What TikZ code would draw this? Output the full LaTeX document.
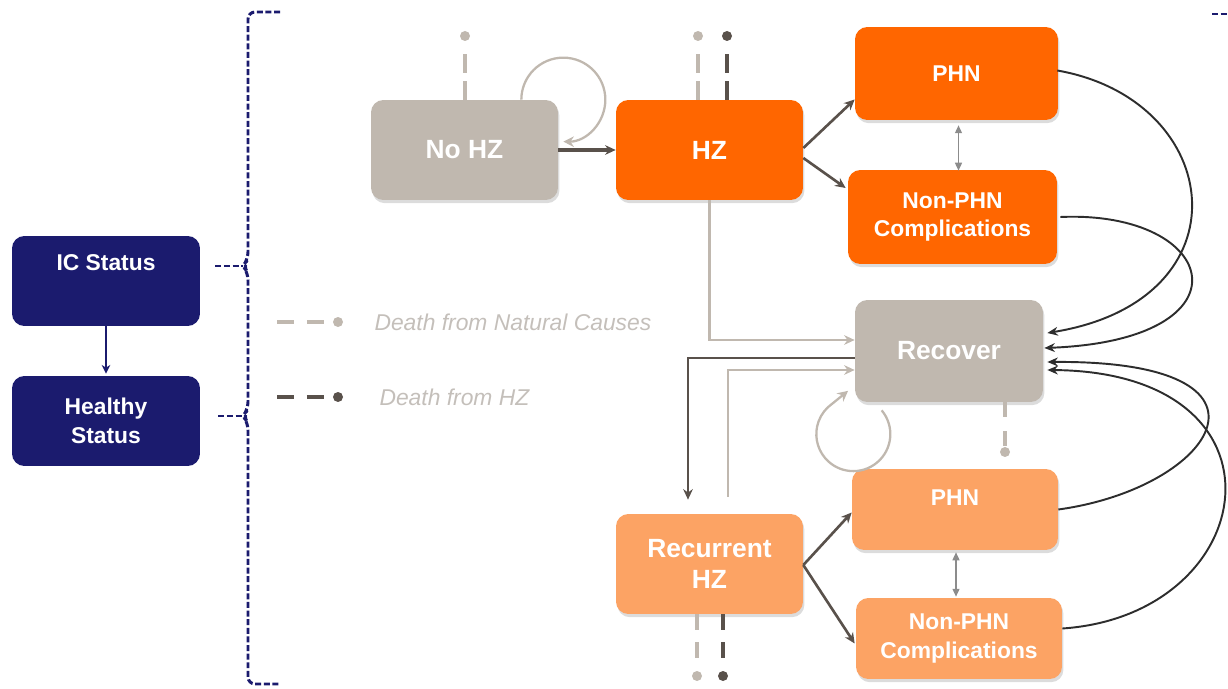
\documentclass[tikz,border=0pt]{standalone}
\usepackage{fontspec}
\setmainfont{Liberation Sans}
\usetikzlibrary{arrows.meta,calc,positioning,shadows}
\definecolor{icnavy}{RGB}{27,27,110}
\definecolor{taupe}{RGB}{192,184,175}
\definecolor{hzorange}{RGB}{255,102,0}
\definecolor{paleorange}{RGB}{252,163,100}
\definecolor{darkline}{RGB}{89,81,75}
\definecolor{lightline}{RGB}{192,184,175}
\definecolor{curveline}{RGB}{45,45,45}
\definecolor{legendgray}{RGB}{196,191,186}
\tikzset{
  box/.style={rounded corners=7pt, text=white, align=center, inner sep=0pt,
    font=\bfseries\fontsize{13}{16}\selectfont,
    drop shadow={shadow xshift=0.8pt, shadow yshift=-1.8pt, opacity=0.28}},
  bigbox/.style={box, font=\bfseries\fontsize{15}{17.5}\selectfont},
  navybox/.style={rounded corners=7pt, fill=icnavy, text=white, align=center, inner sep=0pt,
    minimum width=3.76cm, minimum height=1.8cm, font=\bfseries\fontsize{13}{16.5}\selectfont},
  navyarrow/.style={icnavy, line width=0.7pt, -{Stealth[length=5pt,width=5pt]}},
  bracket/.style={icnavy, line width=1.7pt, dash pattern=on 3.4pt off 1.5pt},
  darkarrow/.style={darkline, line width=1.5pt, -{Stealth[length=6pt,width=5.5pt]}},
  lightarrow/.style={lightline, line width=1.2pt, -{Stealth[length=6pt,width=5.5pt]}},
  curvearrow/.style={curveline, line width=1.1pt, -{Stealth[length=6pt,width=5pt]}},
  looparrow/.style={lightline, line width=1.3pt, -{Stealth[length=6pt,width=6pt]}},
  biarrow/.style={black!45, line width=0.7pt, {Triangle[length=4.5pt,width=4pt]}-{Triangle[length=4.5pt,width=4pt]}},
  dot/.style={circle, inner sep=0pt, minimum size=0.2cm},
  deathline/.style={line width=2.2pt, dash pattern=on 10.5pt off 4.8pt, shorten >=5pt},
  legline/.style={line width=2.2pt, dash pattern=on 9.6pt off 7.4pt, shorten >=5pt},
  legtext/.style={legendgray, font=\itshape\fontsize{13}{15}\selectfont}
}
\begin{document}
\begin{tikzpicture}[x=0.02cm, y=-0.02cm]
		%%%%% START %%%%%
		\useasboundingbox (0,0) rectangle (1228,689);
		
		% status on the left
		\node[navybox] (ic) at (106,281) {IC Status\\[4pt]~};
		\node[navybox] (healthy) at (106,421) {Healthy\\Status};
		\draw[navyarrow] (ic) -- ($(healthy.north)+(0,-2)$);
		
		% bracket
		\coordinate (brk1) at (243,266);
		\coordinate (brk2) at (243,416);
		\draw[bracket, rounded corners=4pt] (280,12) -- (248,12) -- (248,259) -- (brk1) -- (248,273) -- (248,409) -- (brk2) -- (248,423) -- (248,684) -- (280,684);
		\draw[bracket] ($(ic.east)+(15,-15)$) -- (brk1);
		\draw[bracket] ($(healthy.east)+(18,-5)$) -- (brk2);
		\draw[bracket] (1212,14) -- (1228,14);
		
		% legend
		\coordinate (leg1) at (277,322);
		\coordinate (leg2) at (277,397);
		\node[dot, fill=lightline] (legdot1) at (338,322) {};
		\node[dot, fill=darkline] (legdot2) at (338,397) {};
		\draw[legline, lightline] (leg1) -- (legdot1);
		\draw[legline, darkline] (leg2) -- (legdot2);
		\node[legtext, right=0.5cm of legdot1] (legtxt1) {Death from Natural Causes};
		\node[legtext, right=0.6cm of legdot2] (legtxt2) {Death from HZ};
		
		% states
		\node[bigbox, fill=taupe, minimum width=3.74cm, minimum height=2cm] (nohz) at (464.5,150) {No HZ};
		\node[bigbox, fill=hzorange, minimum width=3.74cm, minimum height=2cm] (hz) at (709.5,150) {HZ};
		\node[box, fill=hzorange, minimum width=4.06cm, minimum height=1.86cm] (phn1) at (956.5,73.5) {PHN};
		\node[box, fill=hzorange, minimum width=4.18cm, minimum height=1.88cm] (nonphn1) at (952.5,217) {Non-PHN\\Complications};
		\node[bigbox, fill=taupe, minimum width=3.76cm, minimum height=2.04cm] (recover) at (949,351) {Recover};
		\node[box, fill=paleorange, minimum width=4.12cm, minimum height=1.62cm] (phn2) at (955,509.5) {PHN\\[-3pt]~};
		\node[box, fill=paleorange, minimum width=4.12cm, minimum height=1.62cm] (nonphn2) at (959,638.5) {Non-PHN\\Complications};
		\node[bigbox, fill=paleorange, minimum width=3.74cm, minimum height=2cm] (rec) at (709.5,564) {Recurrent\\HZ};
		
		% deaths
		\node[dot, fill=lightline] (nohzd) at (465,36) {};
		\node[dot, fill=lightline] (hzd1) at (698,36) {};
		\node[dot, fill=darkline] (hzd2) at (727,36) {};
		\node[dot, fill=lightline] (recoverd) at (1005,452) {};
		\node[dot, fill=lightline] (recd1) at (697,676) {};
		\node[dot, fill=darkline] (recd2) at (723,676) {};
		\draw[deathline, lightline] (nohzd |- nohz.north) -- (nohzd);
		\draw[deathline, lightline] (hzd1 |- hz.north) -- (hzd1);
		\draw[deathline, darkline] (hzd2 |- hz.north) -- (hzd2);
		\draw[deathline, lightline, dash pattern=on 8.5pt off 8pt, shorten >=0pt] (recoverd |- recover.south) -- (recoverd);
		\draw[deathline, lightline, dash pattern=on 9pt off 7pt] (recd1 |- rec.south) -- (recd1);
		\draw[deathline, darkline, dash pattern=on 9pt off 7pt] (recd2 |- rec.south) -- (recd2);
		
		% moves
		\draw[darkarrow, line width=1.9pt] (nohz) -- (hz);
		\draw[looparrow] ($(nohz.north east)+(-37,0)$) arc (180:450:42);
		\draw[darkarrow] ($(hz.east)+(0,-2)$) -- ($(phn1.west)+(0,26)$);
		\draw[darkarrow] ($(hz.east)+(0,8)$) -- ($(nonphn1.west)+(-2,-29)$);
		\draw[biarrow] ($(phn1.south)+(2,5)$) -- ($(nonphn1.north)+(6,1)$);
		\draw[lightarrow] (hz.south) |- ($(recover.west)+(0,-11)$);
		\draw[darkarrow] ($(recover.west)+(0,7)$) -| ($(rec.north)+(-21.5,-14)$);
		\draw[lightarrow] ($(rec.north)+(18.5,-17)$) |- ($(recover.west)+(0,19)$);
		\draw[looparrow] ($(recover.south west)+(27,8)$) arc (-40:235:37) -- ++(16,-13);
		\draw[darkarrow] ($(rec.east)+(0,1)$) -- ($(phn2.west)+(0,3)$);
		\draw[darkarrow] ($(rec.east)+(0,1)$) -- ($(nonphn2.west)+(-1,5)$);
		\draw[biarrow] ($(phn2.south)+(1,2)$) -- ($(nonphn2.north)+(-3,-1)$);
		
		% back to recover
		\draw[curvearrow] ($(phn1.east)+(-1,-3)$) .. controls (1225,100) and (1250,300) .. ($(recover.east)+(4,-18)$);
		\draw[curvearrow] ($(nonphn1.east)+(3,0)$) .. controls (1220,210) and (1255,340) .. ($(recover.east)+(1,-3)$);
		\draw[curvearrow] (phn2.east) .. controls (1215,488) and (1300,360) .. ($(recover.east)+(4,11)$);
		\draw[curvearrow] ($(nonphn2.east)+(0,-10)$) .. controls (1262,615) and (1300,372) .. ($(recover.east)+(4,19)$);
		
		%%%%% END %%%%%
	\end{tikzpicture}
\end{document}
